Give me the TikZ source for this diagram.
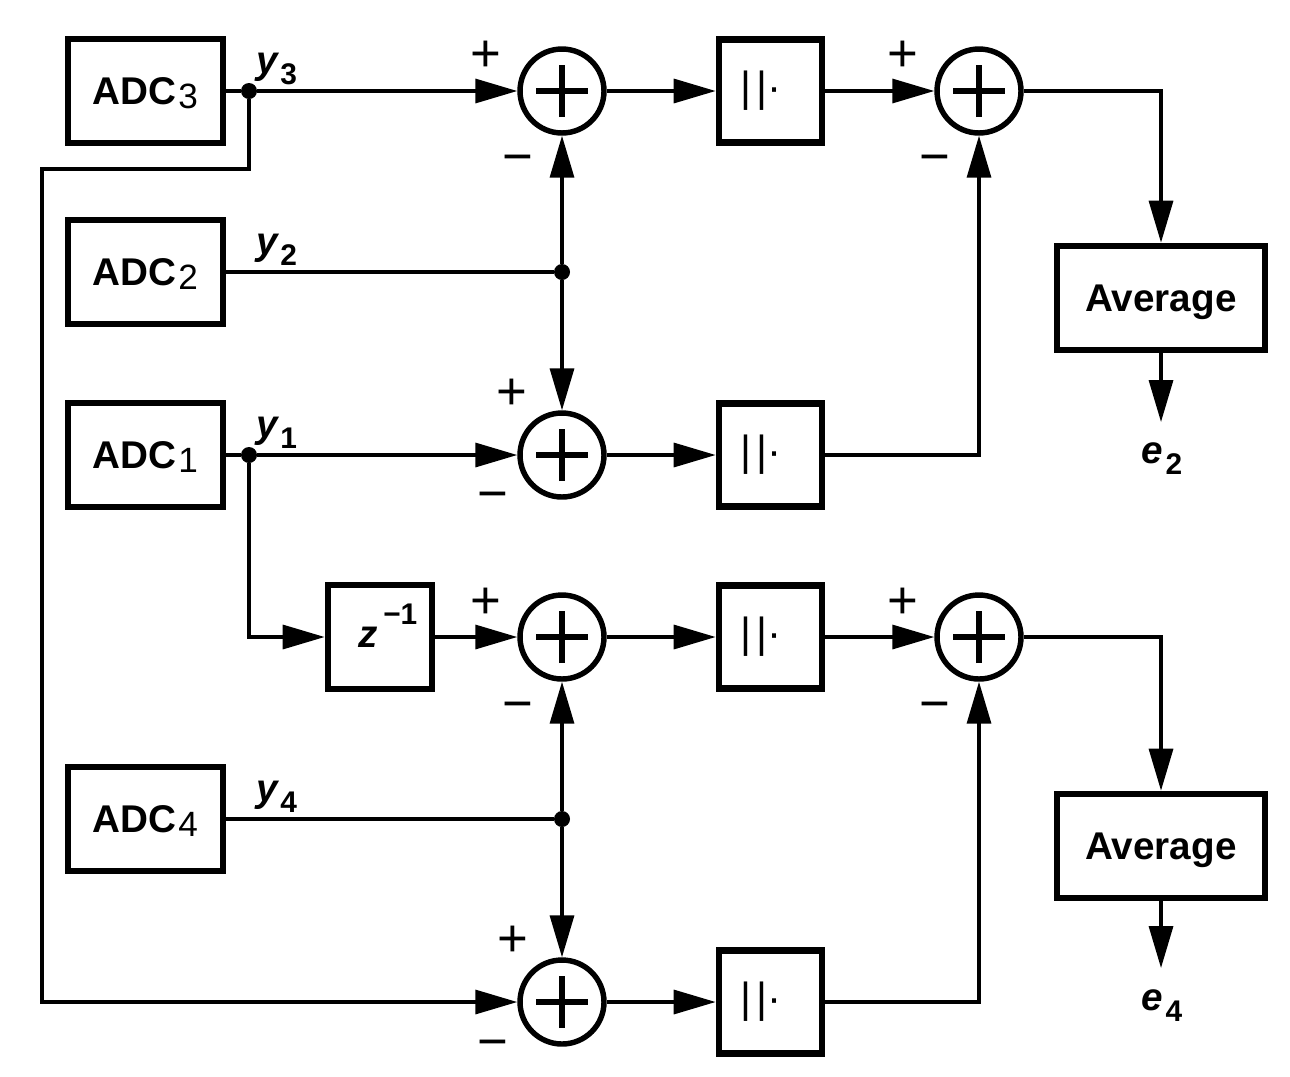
\documentclass[tikz,border=0pt]{standalone}
\usepackage{fontspec}
\setmainfont{Liberation Sans}
\usetikzlibrary{arrows.meta,positioning}
\newcommand{\adcsub}[1]{ADC\kern1pt\raisebox{-2.3pt}{\mdseries\fontsize{20}{22}\selectfont #1}}
\newcommand{\sigsub}[2]{\itshape #1\kern1.5pt\upshape\raisebox{-6.6pt}{\fontsize{17}{19}\selectfont #2}}
\newcommand{\magn}{|\kern3pt|·\kern0.37cm\mbox{}}
\tikzset{
  box/.style={draw, line width=3.8pt, minimum height=2.08cm, inner sep=0pt},
  adcbox/.style={box, minimum width=3.1cm, text depth=0pt, font=\fontsize{22}{26}\selectfont\bfseries},
  avgbox/.style={box, minimum width=4.16cm, text depth=0pt, font=\fontsize{22}{26}\selectfont\bfseries},
  absbox/.style={box, minimum width=2.06cm, minimum height=2.06cm, font=\fontsize{24}{28}\selectfont},
  delaybox/.style={box, minimum width=2.08cm, text depth=0pt, font=\fontsize{22}{26}\selectfont\bfseries\itshape},
  sumnode/.style={circle, draw, line width=3.1pt, minimum size=1.68cm, inner sep=0pt,
    path picture={\draw[line width=3.4pt]
      ([xshift=-0.52cm]path picture bounding box.center) -- ([xshift=0.52cm]path picture bounding box.center)
      ([yshift=-0.52cm]path picture bounding box.center) -- ([yshift=0.52cm]path picture bounding box.center);}},
  wire/.style={line width=1.9pt},
  sig/.style={wire, -{Triangle[length=0.84cm, width=0.48cm]}},
  junc/.style={circle, fill, minimum size=0.32cm, inner sep=0pt},
  sgn/.style={inner sep=0pt, text height=21.5pt, text depth=0pt, font=\fontsize{30}{32}\selectfont},
  sigl/.style={anchor=base west, inner sep=0pt, font=\fontsize{22}{26}\selectfont\bfseries}
}

\begin{document}
\begin{tikzpicture}[x=0.02cm, y=-0.02cm]
  \useasboundingbox (0,0) rectangle (1290,1076);
  % converters
  \node[adcbox] (adcthree) at (145.5,91) {\adcsub{3}};
  \node[adcbox] (adctwo) at (145.5,272) {\adcsub{2}};
  \node[adcbox] (adcone) at (145.5,455) {\adcsub{1}};
  \node[adcbox] (adcfour) at (145.5,819) {\adcsub{4}};
  % junctions
  \node[junc] (jthree) at (249,91) {};
  \node[junc] (jtwo) at (562,272) {};
  \node[junc] (jone) at (249,455) {};
  \node[junc] (jfour) at (562,819) {};
  \coordinate (loopa) at (42,169);
  % adders
  \node[sumnode] (sa) at (562,91) {};
  \node[sumnode] (sb) at (562,455) {};
  \node[sumnode] (sc) at (562,637) {};
  \node[sumnode] (sd) at (562,1002) {};
  \node[sumnode] (se) at (979,91) {};
  \node[sumnode] (sf) at (979,637) {};
  % delay and magnitude
  \node[delaybox] (delay) at (380,637) {\hspace{0.32cm}z\kern3pt\smash{\raisebox{13pt}{\upshape\fontsize{17}{19}\selectfont −1}}};
  \node[absbox] (ma) at (770.5,91) {\magn};
  \node[absbox] (mb) at (770.5,455) {\magn};
  \node[absbox] (mc) at (770.5,637) {\magn};
  \node[absbox] (md) at (770.5,1002) {\magn};
  % averaging
  \node[avgbox] (avga) at (1161,298) {Average};
  \node[avgbox] (avgb) at (1161,846) {Average};
  \coordinate (oute) at (1161,422);
  \coordinate (outf) at (1161,968);
  % signal names
  \node[sigl] (lythree) at (256,73) {\sigsub{y}{3}};
  \node[sigl] (lytwo) at (256,254) {\sigsub{y}{2}};
  \node[sigl] (lyone) at (256,437) {\sigsub{y}{1}};
  \node[sigl] (lyfour) at (256,801) {\sigsub{y}{4}};
  \node[sigl] (letwo) at (1141,463) {\sigsub{e}{2}};
  \node[sigl] (lefour) at (1141,1010) {\sigsub{e}{4}};
  % signs
  \node[sgn] (pa) at (486,53) {+};
  \node[sgn] (na) at (518,156) {−};
  \node[sgn] (pb) at (512,391) {+};
  \node[sgn] (nb) at (493,493) {−};
  \node[sgn] (pc) at (486,600) {+};
  \node[sgn] (nc) at (518,703) {−};
  \node[sgn] (pd) at (513,938) {+};
  \node[sgn] (nd) at (493,1041) {−};
  \node[sgn] (pe) at (903,53) {+};
  \node[sgn] (ne) at (935,156) {−};
  \node[sgn] (pf) at (903,600) {+};
  \node[sgn] (nf) at (935,703) {−};
  % wiring
  \draw[wire] (adcthree) -- (jthree);
  \draw[sig] (jthree) -- (sa);
  \draw[sig] (jthree) |- (loopa) |- (sd);
  \draw[wire] (adctwo) -- (jtwo);
  \draw[sig] (jtwo) -- (sa);
  \draw[sig] (jtwo) -- (sb);
  \draw[wire] (adcone) -- (jone);
  \draw[sig] (jone) -- (sb);
  \draw[sig] (jone) |- (delay);
  \draw[sig] (delay) -- (sc);
  \draw[wire] (adcfour) -- (jfour);
  \draw[sig] (jfour) -- (sc);
  \draw[sig] (jfour) -- (sd);
  \draw[sig] (sa) -- (ma);
  \draw[sig] (sb) -- (mb);
  \draw[sig] (sc) -- (mc);
  \draw[sig] (sd) -- (md);
  \draw[sig] (ma) -- (se);
  \draw[sig] (mb) -| (se);
  \draw[sig] (mc) -- (sf);
  \draw[sig] (md) -| (sf);
  \draw[sig] (se) -| (avga);
  \draw[sig] (sf) -| (avgb);
  \draw[sig] (avga) -- (oute);
  \draw[sig] (avgb) -- (outf);
\end{tikzpicture}
\end{document}
